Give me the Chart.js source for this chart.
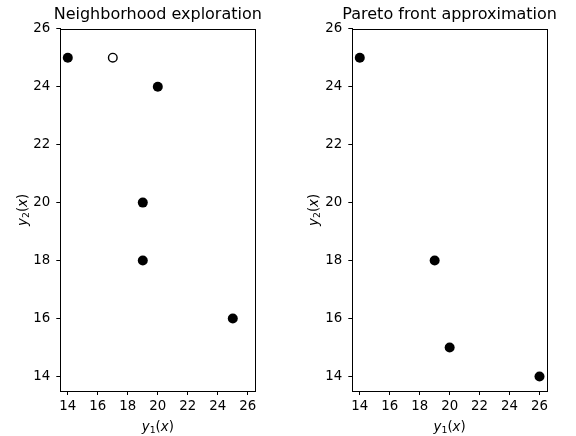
<!DOCTYPE html>
<html>
<head>
<meta charset="utf-8">
<script src="https://cdn.jsdelivr.net/npm/chart.js@4"></script>
<style>
  html, body { margin: 0; padding: 0; background: #fff; }
  #wrap { position: relative; width: 576px; height: 436px; overflow: hidden; }
  .box { position: absolute; top: 0; height: 436px; }
</style>
</head>
<body>
<div id="wrap">
  <div class="box" style="left:0;width:288px"><canvas id="c1"></canvas></div>
  <div class="box" style="left:288px;width:288px"><canvas id="c2"></canvas></div>
</div>
<script>
// ---- data ----
const leftTitle = "Neighborhood exploration";
const rightTitle = "Pareto front approximation";
const leftX = [14, 20, 19, 19, 25];
const leftY = [25, 24, 20, 18, 16];
const openX = [17];
const openY = [25];
const rightX = [14, 19, 20, 26];
const rightY = [25, 18, 15, 14];
const xTicks = [14, 16, 18, 20, 22, 24, 26];
const yTicks = [14, 16, 18, 20, 22, 24, 26];
const xLabel = ["y", "1", "(", "x", ")"];   // y_1(x)
const yLabel = ["y", "2", "(", "x", ")"];   // y_2(x)
const xRange = [13.5, 26.5];
const yRange = [13.5, 26];

const FONT = "'DejaVu Sans', sans-serif";
const TS = 13.33;

function pts(xs, ys) { return xs.map((x, i) => ({ x: x, y: ys[i] })); }

// draw "v_s(a)" in mathtext style: italic letters, smaller upright subscript
function drawMath(ctx, parts, cx, baseline, rot) {
  const segs = [
    { t: parts[0], f: "italic " + TS + "px " + FONT, dy: 0 },
    { t: parts[1], f: (TS * 0.7) + "px " + FONT, dy: TS * 0.2 },
    { t: parts[2], f: TS + "px " + FONT, dy: 0 },
    { t: parts[3], f: "italic " + TS + "px " + FONT, dy: 0 },
    { t: parts[4], f: TS + "px " + FONT, dy: 0 }
  ];
  let total = 0;
  segs.forEach(s => { ctx.font = s.f; s.w = ctx.measureText(s.t).width; total += s.w; });
  ctx.save();
  ctx.translate(cx, baseline);
  ctx.rotate(rot);
  ctx.fillStyle = '#000';
  ctx.textAlign = 'left';
  ctx.textBaseline = 'alphabetic';
  let x = -total / 2;
  segs.forEach(s => { ctx.font = s.f; ctx.fillText(s.t, x, s.dy); x += s.w; });
  ctx.restore();
}

const framePlugin = {
  id: 'frameTitle',
  afterDraw(chart, args, opts) {
    const { ctx, chartArea: a } = chart;
    ctx.save();
    ctx.strokeStyle = '#000';
    ctx.lineWidth = 1;
    ctx.strokeRect(Math.round(a.left) + 0.5, Math.round(a.top) + 0.5,
                   Math.round(a.right - a.left), Math.round(a.bottom - a.top));
    ctx.fillStyle = '#000';
    ctx.font = "16px " + FONT;
    ctx.textAlign = 'center';
    ctx.textBaseline = 'middle';
    ctx.fillText(opts.text, (a.left + a.right) / 2, 15);
    ctx.restore();
    drawMath(ctx, xLabel, (a.left + a.right) / 2, 430.5, 0);
    drawMath(ctx, yLabel, opts.yLabelX, (a.top + a.bottom) / 2, -Math.PI / 2);
  }
};

function makeChart(id, datasets, title, yAxisW, padRight, yLabelX) {
  return new Chart(document.getElementById(id), {
    type: 'scatter',
    data: { datasets: datasets },
    plugins: [framePlugin],
    options: {
      responsive: true,
      maintainAspectRatio: false,
      animation: false,
      layout: { padding: { top: 28.7, right: padRight, left: 0, bottom: 0 } },
      plugins: {
        legend: { display: false },
        tooltip: { enabled: false },
        title: { display: false },
        frameTitle: { text: title, yLabelX: yLabelX }
      },
      scales: {
        x: {
          type: 'linear',
          min: xRange[0], max: xRange[1],
          afterBuildTicks: s => { s.ticks = xTicks.map(v => ({ value: v })); },
          afterFit: s => { s.height = 45; },
          grid: { display: true, drawOnChartArea: false, drawTicks: true, tickLength: 4, color: '#000', tickColor: '#000', lineWidth: 1 },
          border: { display: true, color: '#000' },
          ticks: { color: '#000', font: { family: FONT, size: TS }, padding: 3.5, maxRotation: 0, autoSkip: false }
        },
        y: {
          type: 'linear',
          min: yRange[0], max: yRange[1],
          afterBuildTicks: s => { s.ticks = yTicks.map(v => ({ value: v })); },
          afterFit: s => { s.width = yAxisW; },
          grid: { display: true, drawOnChartArea: false, drawTicks: true, tickLength: 4, color: '#000', tickColor: '#000', lineWidth: 1 },
          border: { display: true, color: '#000' },
          ticks: { color: '#000', font: { family: FONT, size: TS }, padding: 6, autoSkip: false }
        }
      }
    }
  });
}

makeChart('c1', [
  { data: pts(leftX, leftY), backgroundColor: '#000', borderColor: '#000', pointRadius: 5, pointBorderWidth: 0 },
  { data: pts(openX, openY), backgroundColor: '#fff', borderColor: '#000', pointRadius: 4.3, pointBorderWidth: 1.4 }
], leftTitle, 60.3, 32.7, 26.5);

makeChart('c2', [
  { data: pts(rightX, rightY), backgroundColor: '#000', borderColor: '#000', pointRadius: 5, pointBorderWidth: 0 }
], rightTitle, 64.3, 29, 29.5);
</script>
</body>
</html>
